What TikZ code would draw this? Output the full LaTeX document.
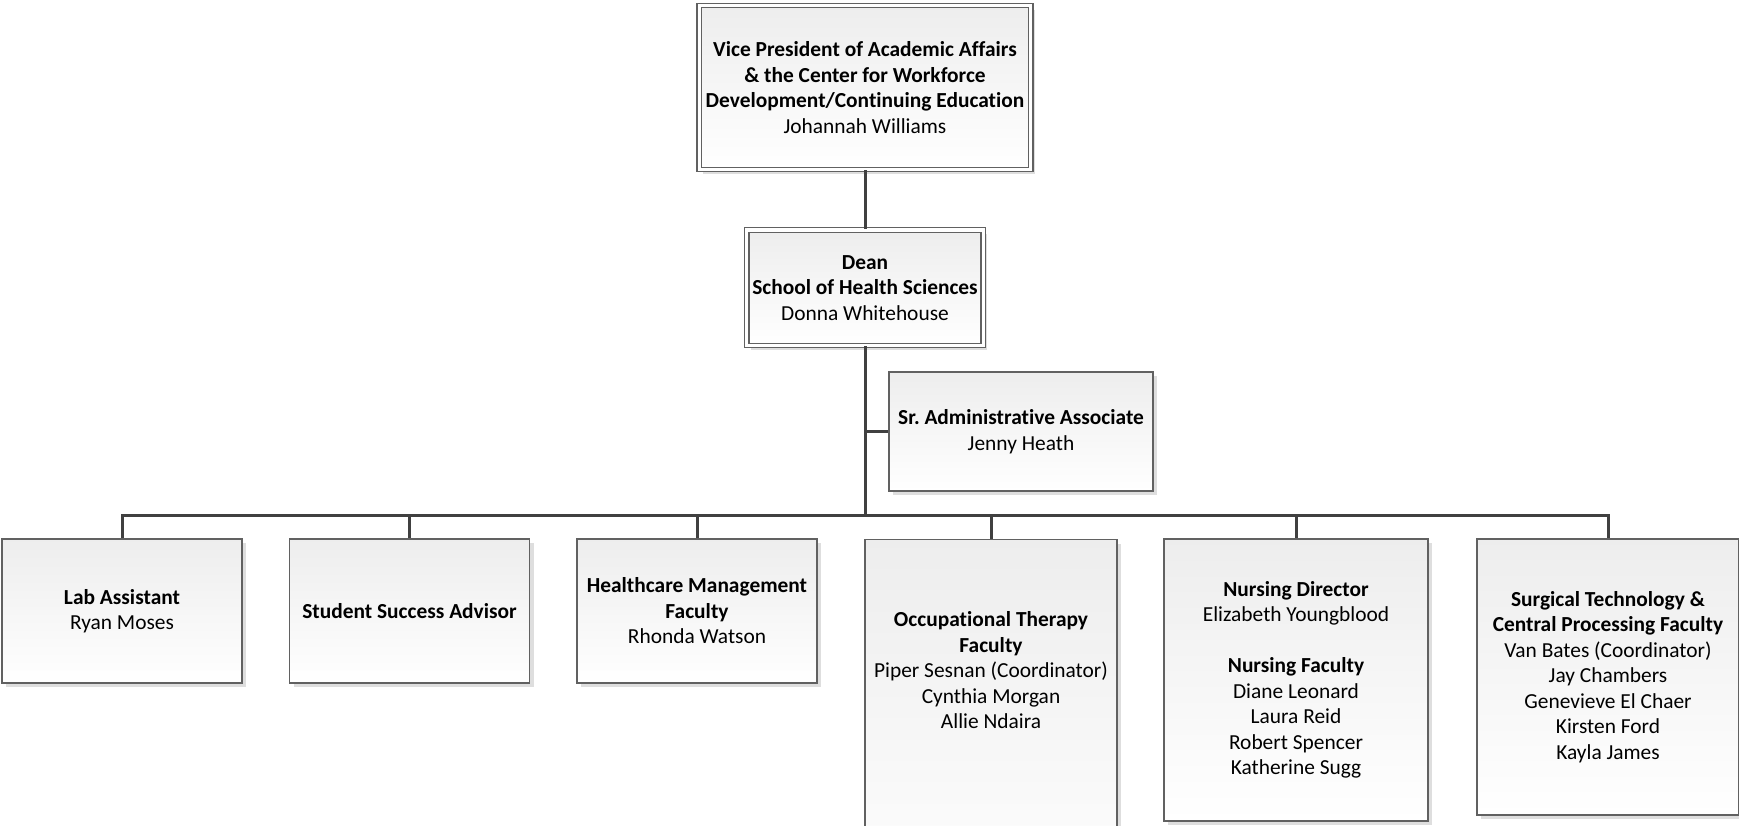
\documentclass[tikz,border=0pt]{standalone}
\usepackage{fontspec}
\setmainfont{Carlito}[Ligatures=CommonOff]
\usepackage{xcolor}
\usepackage{tikz}
\usetikzlibrary{shadows}

\begin{document}
\begin{tikzpicture}[
    x=0.5pt, y=-0.5pt,
    box/.style={rectangle, draw=black!62, line width=0.6pt, top color=black!7, bottom color=white,
        drop shadow={shadow xshift=2pt, shadow yshift=-2pt, fill=black!13, opacity=1},
        align=center, inner sep=2pt, font=\fontsize{10.7}{12.75}\selectfont},
    headbox/.style={box, double=white, double distance=1.6pt},
    conn/.style={draw=black!75, line width=1.5pt}
]
\clip (0,0) rectangle (1739,825);

\node[headbox, minimum width=165.75pt, minimum height=82pt] (vp) at (865,87.5)
    {\textbf{Vice President of Academic Affairs}\\\textbf{\& the Center for Workforce}\\\textbf{Development/Continuing Education}\\Johannah Williams};
\node[headbox, minimum width=118.25pt, minimum height=57.75pt] (dean) at (865,287.75)
    {\textbf{Dean}\\\textbf{School of Health Sciences}\\Donna Whitehouse};
\node[box, minimum width=132pt, minimum height=59.5pt] (sradmin) at (1021,431.5)
    {\textbf{Sr.\ Administrative Associate}\\Jenny Heath};

\coordinate (hub) at (865,515);

\node[box, minimum width=120pt, minimum height=72pt] (lab) at (122,611)
    {\textbf{Lab Assistant}\\Ryan Moses};
\node[box, minimum width=120pt, minimum height=72pt] (advisor) at (409.5,611)
    {\textbf{Student Success Advisor}};
\node[box, minimum width=120pt, minimum height=72pt] (hcm) at (697,611)
    {\textbf{Healthcare Management}\\\textbf{Faculty}\\Rhonda Watson};
\node[box, minimum width=126pt, anchor=north, inner ysep=36pt, text depth=60pt] (ot) at (991,539)
    {\textbf{Occupational Therapy}\\\textbf{Faculty}\\Piper Sesnan (Coordinator)\\Cynthia Morgan\\Allie Ndaira};
\node[box, minimum width=132pt, minimum height=141pt] (nursing) at (1296,680)
    {\textbf{Nursing Director}\\Elizabeth Youngblood\\[12.75pt]\textbf{Nursing Faculty}\\Diane Leonard\\Laura Reid\\Robert Spencer\\Katherine Sugg};
\node[box, minimum width=131pt, minimum height=138pt] (surgtech) at (1608,677)
    {\textbf{Surgical Technology \&}\\\textbf{Central Processing Faculty}\\Van Bates (Coordinator)\\Jay Chambers\\Genevieve El Chaer\\Kirsten Ford\\Kayla James};

\draw[conn] (vp) -- (dean);
\draw[conn] (dean) |- (sradmin);
\draw[conn] (dean) -- (hub);

\draw[conn] (hub) -| (lab);
\draw[conn] (hub) -| (advisor);
\draw[conn] (hub) -| (hcm);
\draw[conn] (hub) -| (ot);
\draw[conn] (hub) -| (nursing);
\draw[conn] (hub) -| (surgtech);
\end{tikzpicture}
\end{document}
